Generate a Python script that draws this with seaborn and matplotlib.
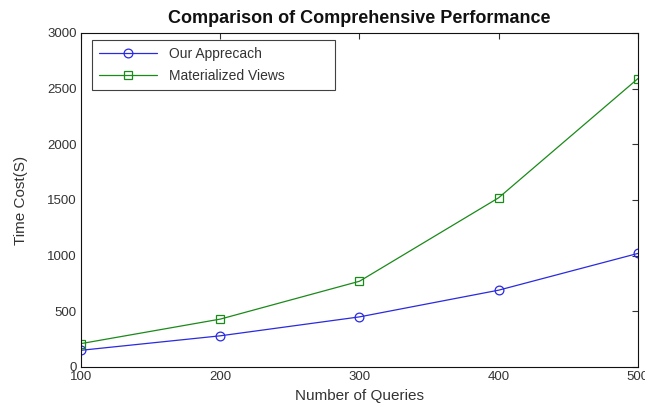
import matplotlib
matplotlib.use("Agg")
import matplotlib.pyplot as plt
import seaborn as sns
import pandas as pd

queries = [100, 200, 300, 400, 500]
our_approach = [150, 280, 450, 690, 1020]
materialized_views = [210, 430, 770, 1520, 2590]
series_names = ["Our Apprecach", "Materialized Views"]

sns.set_theme(style="white")
plt.rcParams["font.family"] = ["Liberation Sans", "DejaVu Sans"]

df = pd.DataFrame({
    "queries": queries * 2,
    "cost": our_approach + materialized_views,
    "series": [series_names[0]] * len(queries) + [series_names[1]] * len(queries),
})

fig = plt.figure(figsize=(6.45, 4.07), dpi=100)
ax = fig.add_axes([0.1256, 0.0983, 0.8634, 0.8207])

palette = {series_names[0]: "#2a2ae0", series_names[1]: "#1a8a1a"}
markers = {series_names[0]: "o", series_names[1]: "s"}
sns.lineplot(data=df, x="queries", y="cost", hue="series", style="series",
             palette=palette, markers=markers, dashes=False, linewidth=0.9,
             markersize=6.3, markerfacecolor="none", ax=ax)
for line in ax.lines:
    line.set_markeredgecolor(line.get_color())
    line.set_markerfacecolor("none")
    line.set_markeredgewidth(0.9)

ax.set_xlim(100, 500)
ax.set_ylim(0, 3000)
ax.set_xticks(queries)
ax.set_yticks(range(0, 3001, 500))
ax.tick_params(direction="in", length=4, width=0.8, labelsize=9.5,
               top=True, right=True, colors="#333333", pad=3)
for s in ax.spines.values():
    s.set_color("#111111")
    s.set_linewidth(0.8)

ax.set_xlabel("Number of Queries", fontsize=11, labelpad=4, color="#333333")
ax.set_ylabel("Time Cost(S)", fontsize=11, labelpad=14, color="#333333")
ax.set_title("Comparison of Comprehensive Performance", fontsize=13,
             fontweight="bold", pad=7, color="#111111")

handles, labels = ax.get_legend_handles_labels()
leg = ax.legend(handles, labels, loc="upper left", fontsize=10,
                bbox_to_anchor=(0.02, 0.847, 0.436, 0.132), mode="expand",
                frameon=True, fancybox=False, edgecolor="#111111",
                borderaxespad=0.0, borderpad=0.5, handlelength=4.2,
                labelspacing=0.55, handletextpad=0.8)
leg.get_frame().set_linewidth(0.8)
for h in leg.legend_handles:
    h.set_markerfacecolor("none")
    h.set_markeredgecolor(h.get_color())
for t in leg.get_texts():
    t.set_color("#333333")

fig.savefig("out.png", dpi=100)
